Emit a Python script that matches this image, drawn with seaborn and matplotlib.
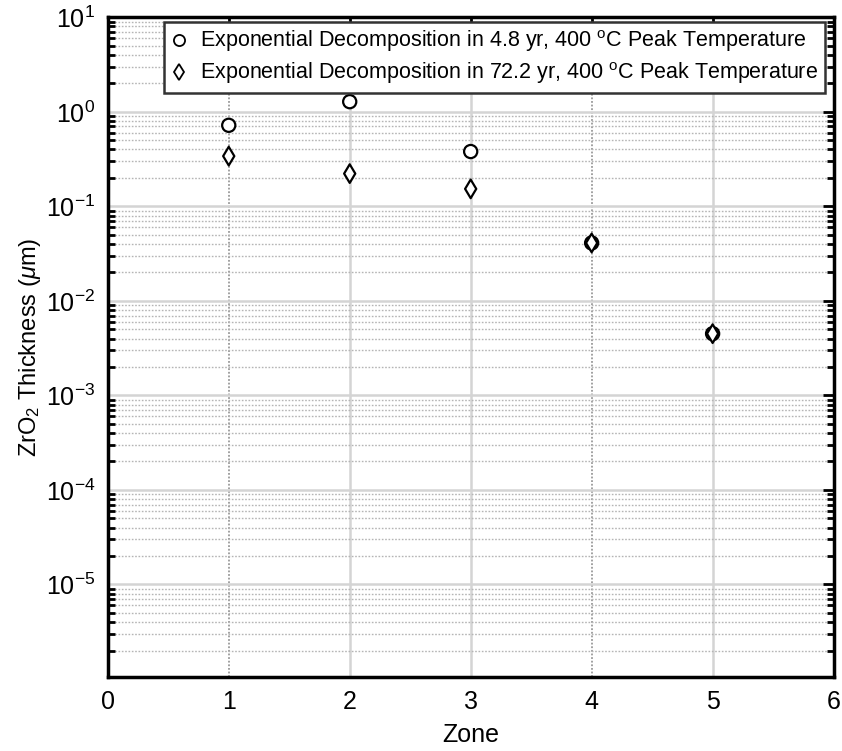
import numpy as np
import pandas as pd
import matplotlib
matplotlib.use("Agg")
import matplotlib.pyplot as plt
import seaborn as sns
from matplotlib.ticker import LogLocator, FixedLocator, NullFormatter, LogFormatterSciNotation
from matplotlib.lines import Line2D

# Oxide thickness per zone for the two decomposition scenarios
zones = [1, 2, 3, 4, 5]
thick_short = [0.72, 1.28, 0.38, 0.041, 0.0045]   # 4.8 yr
thick_long = [0.34, 0.222, 0.153, 0.041, 0.0045]  # 72.2 yr
label_short = "Exponential Decomposition in 4.8 yr, 400 $^{\\mathrm{o}}$C Peak Temperature"
label_long = "Exponential Decomposition in 72.2 yr, 400 $^{\\mathrm{o}}$C Peak Temperature"
x_ticks = [0, 1, 2, 3, 4, 5, 6]

sns.set_theme(style="white")
plt.rcParams["font.family"] = ["Liberation Sans", "DejaVu Sans"]
plt.rcParams["mathtext.fontset"] = "custom"
plt.rcParams["mathtext.rm"] = "Liberation Sans"
plt.rcParams["mathtext.it"] = "Liberation Sans:italic"
plt.rcParams["mathtext.default"] = "regular"
for key in ("text.color", "axes.labelcolor", "xtick.color", "ytick.color"):
    plt.rcParams[key] = "black"

df = pd.DataFrame({
    "zone": zones * 2,
    "thickness": thick_short + thick_long,
    "series": [label_short] * len(zones) + [label_long] * len(zones),
})

fig = plt.figure(figsize=(8.42, 7.51), dpi=100)
ax = fig.add_axes([0.128, 0.0985, 0.862, 0.8785])

markers = {label_short: "o", label_long: "d"}
sns.scatterplot(data=df, x="zone", y="thickness", style="series", markers=markers,
                color="white", edgecolor="black", linewidth=1.6, s=90, ax=ax,
                legend=False, zorder=5)

ax.set_yscale("log")
ax.set_ylim(1.05e-6, 10)
ax.set_xlim(0, 6)
ax.xaxis.set_major_locator(FixedLocator(x_ticks))
ax.yaxis.set_major_locator(FixedLocator([1e-5, 1e-4, 1e-3, 1e-2, 1e-1, 1, 10]))
ax.yaxis.set_major_formatter(LogFormatterSciNotation())
ax.yaxis.set_minor_locator(LogLocator(base=10, subs=np.arange(2, 10), numticks=20))
ax.yaxis.set_minor_formatter(NullFormatter())

# Grid: solid light major lines, dotted minor lines
ax.grid(True, which="major", axis="both", color="#d4d4d4", linestyle="-", linewidth=1.8, zorder=0)
ax.grid(True, which="minor", axis="y", color="#b5b5b5", linestyle=(0, (1.2, 1.2)), linewidth=1.0, zorder=0)
for gl, xv in zip(ax.get_xgridlines(), x_ticks):
    if xv in (1, 4):
        gl.set_color("#9a9a9a")
        gl.set_linestyle((0, (1, 1)))
        gl.set_linewidth(1.3)
ax.set_axisbelow(True)

for sp in ax.spines.values():
    sp.set_linewidth(2.5)
    sp.set_color("black")

ax.tick_params(axis="both", which="major", direction="in", length=8, width=2,
               top=True, right=True, labelsize=18, pad=9)
ax.tick_params(axis="y", which="minor", direction="in", length=5, width=2,
               left=True, right=True)
ax.tick_params(axis="x", which="minor", bottom=False, top=False)

ax.set_xlabel("Zone", fontsize=18, labelpad=7)
ax.set_ylabel("ZrO$_2$ Thickness ($\\mathit{\\mu}$m)", fontsize=17, labelpad=2)

handles = [
    Line2D([], [], linestyle="none", marker="o", markersize=8, markerfacecolor="white",
           markeredgecolor="black", markeredgewidth=1.3, label=label_short),
    Line2D([], [], linestyle="none", marker="d", markersize=8, markerfacecolor="white",
           markeredgecolor="black", markeredgewidth=1.3, label=label_long),
]
leg = ax.legend(handles=handles, loc="upper right", fontsize=15.5, frameon=True,
                fancybox=False, framealpha=1, edgecolor="#333333",
                handlelength=0.8, handletextpad=0.6, borderpad=0.3,
                labelspacing=0.3, borderaxespad=0.0, bbox_to_anchor=(0.988, 0.993))
leg.get_frame().set_linewidth(1.8)

fig.savefig("out.png", dpi=100)
